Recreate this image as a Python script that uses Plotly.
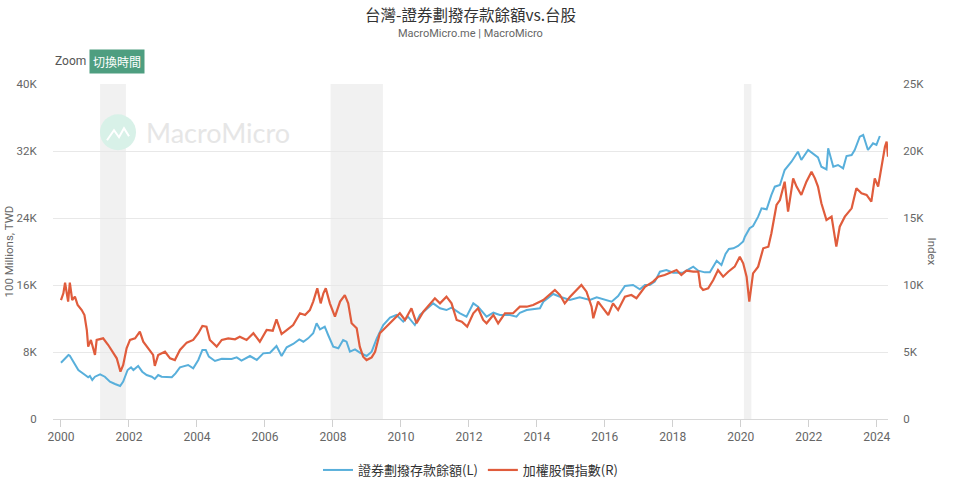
import plotly.graph_objects as go

# ---------------- data ----------------
title_text = "台灣-證券劃撥存款餘額vs.台股"
subtitle_text = "MacroMicro.me | MacroMicro"
series_names = ["證券劃撥存款餘額(L)", "加權股價指數(R)"]

deposit_x = [2000.00, 2000.22, 2000.26, 2000.51, 2000.71, 2000.80, 2000.85, 2000.92, 2001.00, 2001.15,
             2001.29, 2001.44, 2001.59, 2001.74, 2001.83, 2001.96, 2002.06, 2002.13, 2002.27, 2002.39,
             2002.52, 2002.67, 2002.76, 2002.86, 2002.96, 2003.26, 2003.37, 2003.50, 2003.74, 2003.89,
             2004.04, 2004.16, 2004.26, 2004.35, 2004.53, 2004.73, 2005.02, 2005.17, 2005.31, 2005.56,
             2005.76, 2005.95, 2006.15, 2006.34, 2006.49, 2006.64, 2006.83, 2007.01, 2007.13, 2007.27,
             2007.42, 2007.52, 2007.62, 2007.76, 2007.86, 2008.01, 2008.16, 2008.30, 2008.40, 2008.50,
             2008.65, 2008.79, 2008.99, 2009.14, 2009.29, 2009.48, 2009.68, 2009.87, 2010.07, 2010.21,
             2010.41, 2010.56, 2010.95, 2011.15, 2011.34, 2011.49, 2011.74, 2011.93, 2012.13, 2012.27,
             2012.52, 2012.72, 2012.91, 2013.21, 2013.40, 2013.50, 2013.70, 2014.09, 2014.19, 2014.48,
             2014.68, 2014.97, 2015.26, 2015.56, 2015.76, 2016.05, 2016.20, 2016.39, 2016.59, 2016.83,
             2017.03, 2017.18, 2017.32, 2017.47, 2017.62, 2017.81, 2018.01, 2018.30, 2018.60, 2018.75,
             2018.94, 2019.09, 2019.29, 2019.43, 2019.55, 2019.65, 2019.78, 2019.92, 2020.07, 2020.12,
             2020.26, 2020.36, 2020.51, 2020.61, 2020.76, 2020.90, 2021.00, 2021.15, 2021.29, 2021.49,
             2021.68, 2021.78, 2021.98, 2022.27, 2022.37, 2022.52, 2022.57, 2022.72, 2022.86, 2023.01,
             2023.11, 2023.26, 2023.35, 2023.50, 2023.60, 2023.74, 2023.89, 2023.99, 2024.09]
deposit_y = [6720, 7640, 7560, 5850, 5250, 4980, 5130, 4660, 5050, 5330,
             5050, 4460, 4180, 3940, 4460, 5850, 6170, 5850, 6330, 5650,
             5250, 5050, 4780, 5250, 5050, 4980, 5450, 6170, 6450, 6050,
             7050, 8240, 8240, 7440, 6930, 7200, 7160, 7360, 6970, 7520,
             7050, 7840, 7920, 8720, 7520, 8560, 8960, 9510, 9230, 9630,
             10230, 11430, 10710, 11020, 10030, 8630, 8440, 9430, 9230, 8040,
             8320, 7920, 7520, 8040, 9630, 11220, 12100, 12420, 11620, 12220,
             11220, 12420, 13810, 13220, 13010, 13290, 12620, 12220, 13810, 13410,
             12220, 12690, 12420, 12420, 12220, 12690, 13010, 13220, 14010, 14930,
             14600, 14210, 14530, 14210, 14530, 14210, 14010, 14690, 15880, 16000,
             15490, 16000, 16000, 16400, 17590, 17790, 17470, 17470, 18190, 17710,
             17510, 17510, 18900, 18390, 19700, 20300, 20380, 20660, 21200, 21770,
             22770, 23050, 24160, 25160, 25040, 26750, 27740, 27940, 29730, 30720,
             31920, 30930, 32120, 31240, 30120, 29810, 32320, 30120, 30330, 29930,
             31400, 31520, 32120, 33710, 33910, 32120, 32920, 32720, 33790]

taiex_x = [2000.00, 2000.07, 2000.12, 2000.17, 2000.21, 2000.26, 2000.33, 2000.41, 2000.49, 2000.61,
           2000.69, 2000.76, 2000.80, 2000.88, 2000.95, 2001.00, 2001.05, 2001.15, 2001.24, 2001.39,
           2001.54, 2001.64, 2001.75, 2001.83, 2001.93, 2002.03, 2002.18, 2002.32, 2002.42, 2002.57,
           2002.71, 2002.76, 2002.86, 2003.06, 2003.21, 2003.35, 2003.50, 2003.70, 2003.89, 2004.04,
           2004.16, 2004.28, 2004.38, 2004.58, 2004.73, 2004.92, 2005.12, 2005.26, 2005.46, 2005.66,
           2005.85, 2006.05, 2006.23, 2006.34, 2006.49, 2006.64, 2006.83, 2007.03, 2007.18, 2007.32,
           2007.42, 2007.54, 2007.64, 2007.72, 2007.79, 2007.91, 2008.06, 2008.21, 2008.35, 2008.45,
           2008.55, 2008.70, 2008.79, 2008.89, 2008.99, 2009.14, 2009.24, 2009.38, 2009.58, 2009.77,
           2009.97, 2010.12, 2010.31, 2010.46, 2010.66, 2011.00, 2011.15, 2011.34, 2011.49, 2011.64,
           2011.79, 2011.95, 2012.13, 2012.27, 2012.42, 2012.52, 2012.72, 2012.86, 2013.06, 2013.30,
           2013.50, 2013.70, 2013.89, 2014.19, 2014.53, 2014.68, 2014.82, 2014.97, 2015.17, 2015.31,
           2015.46, 2015.61, 2015.66, 2015.80, 2015.95, 2016.10, 2016.24, 2016.39, 2016.59, 2016.78,
           2016.93, 2017.18, 2017.42, 2017.57, 2017.76, 2017.96, 2018.11, 2018.25, 2018.40, 2018.60,
           2018.75, 2018.81, 2018.89, 2019.04, 2019.19, 2019.33, 2019.48, 2019.63, 2019.82, 2019.97,
           2020.07, 2020.17, 2020.25, 2020.36, 2020.51, 2020.66, 2020.81, 2020.90, 2021.05, 2021.15,
           2021.29, 2021.39, 2021.54, 2021.64, 2021.78, 2021.93, 2022.08, 2022.18, 2022.27, 2022.37,
           2022.52, 2022.67, 2022.81, 2022.91, 2023.06, 2023.26, 2023.40, 2023.55, 2023.70, 2023.84,
           2023.94, 2024.04, 2024.14, 2024.24, 2024.29, 2024.33]
taiex_y = [8880, 9380, 10170, 9130, 8760, 10170, 8880, 9130, 8510, 8130,
           7760, 6640, 5400, 5900, 5280, 4780, 5900, 5950, 6020, 5520,
           4900, 4530, 3530, 4030, 5280, 5900, 6020, 6520, 5770, 5280,
           4780, 3960, 4780, 5020, 4530, 4400, 5150, 5700, 5900, 6400,
           6940, 6890, 5900, 5400, 5900, 6020, 5950, 6140, 5900, 6400,
           5770, 6640, 6590, 7440, 6340, 6640, 7010, 7890, 7760, 8130,
           8760, 9750, 8630, 9380, 9750, 8630, 7640, 8760, 9250, 8630,
           7140, 6770, 5400, 4650, 4400, 4600, 5020, 6400, 6890, 7390,
           7890, 7390, 8260, 7140, 8010, 9010, 8630, 9130, 8630, 7390,
           7260, 6890, 7890, 8260, 7390, 7140, 7760, 7140, 7890, 7890,
           8380, 8380, 8510, 8880, 9630, 9250, 8630, 9100, 9630, 10000,
           9500, 8380, 7520, 8760, 8260, 7760, 8630, 8130, 9130, 9250,
           9010, 9870, 10250, 10620, 10750, 10990, 11120, 10750, 11070, 11000,
           11000, 9870, 9630, 9750, 10370, 11120, 10620, 10990, 11370, 12110,
           11620, 10620, 8760, 10870, 11370, 12740, 12860, 13860, 15970, 16340,
           17710, 15470, 17960, 17340, 16720, 17710, 18460, 17960, 17340, 16100,
           14850, 15100, 12860, 14350, 15100, 15720, 17220, 16850, 16720, 16220,
           17960, 17340, 18830, 20320, 20700, 19570]

recession_start = [2001.15, 2007.93, 2020.09]
recession_end = [2001.91, 2009.47, 2020.31]

x_tickvals = [2000, 2002, 2004, 2006, 2008, 2010, 2012, 2014, 2016, 2018, 2020, 2022, 2024]
x_ticktext = [str(v) for v in x_tickvals]
left_tickvals = [0, 8000, 16000, 24000, 32000, 40000]
left_ticktext = ["0", "8K", "16K", "24K", "32K", "40K"]
right_tickvals = [0, 5000, 10000, 15000, 20000, 25000]
right_ticktext = ["0", "5K", "10K", "15K", "20K", "25K"]

# ---------------- layout geometry ----------------
W, H = 960, 489
PL, PR, PT, PB = 53, 888, 83.7, 419
FONT = "Roboto, 'Noto Sans CJK TC', sans-serif"


def px(x):
    return (x - PL) / (PR - PL)


def py(y):
    return (PB - y) / (PB - PT)


BLUE = "#58afdb"
RED = "#e05c3c"

fig = go.Figure()
fig.add_trace(go.Scatter(x=deposit_x, y=deposit_y, name=series_names[0], mode="lines",
                         line=dict(color=BLUE, width=2), yaxis="y"))
fig.add_trace(go.Scatter(x=taiex_x, y=taiex_y, name=series_names[1], mode="lines",
                         line=dict(color=RED, width=2.2), yaxis="y2"))

shapes = []
for s, e in zip(recession_start, recession_end):
    shapes.append(dict(type="rect", xref="x", yref="paper", x0=s, x1=e, y0=0, y1=1,
                       fillcolor="#f1f1f1", line=dict(width=0), layer="below"))
# watermark logo circle
shapes.append(dict(type="circle", xref="paper", yref="paper",
                   x0=px(100), x1=px(136), y0=py(150), y1=py(114),
                   fillcolor="#d8f1e8", line=dict(width=0), layer="below"))
shapes.append(dict(type="path", xref="paper", yref="paper",
                   path=f"M {px(107)},{py(140)} L {px(114)},{py(130)} L {px(119)},{py(137)} L {px(124)},{py(128)} L {px(129)},{py(136)}",
                   line=dict(color="white", width=2), layer="below"))

annotations = [
    dict(text=title_text, x=0.5, xref="paper", y=py(14), yref="paper", showarrow=False,
         font=dict(size=15.5, color="#333333", family="'Noto Sans CJK TC', sans-serif"),
         xanchor="center", yanchor="middle"),
    dict(text=subtitle_text, x=0.5, xref="paper", y=py(33), yref="paper", showarrow=False,
         font=dict(size=11, color="#666666", family=FONT), xanchor="center", yanchor="middle"),
    dict(text="Zoom", x=px(53), xref="paper", y=py(61), yref="paper", showarrow=False,
         font=dict(size=12, color="#555555", family=FONT), xanchor="left", yanchor="middle"),
    dict(text="切換時間", x=px(89), xref="paper", y=py(61), yref="paper", showarrow=False,
         font=dict(size=12, color="white", family="'Noto Sans CJK TC', sans-serif"),
         bgcolor="#4e9e80", borderpad=3, xanchor="left", yanchor="middle"),
    dict(text="MacroMicro", x=px(144), xref="paper", y=py(132), yref="paper", showarrow=False,
         font=dict(size=27, color="#e6e6e6", family="Lato, sans-serif"),
         xanchor="left", yanchor="middle"),
    dict(text="100 Millions, TWD", x=px(8), xref="paper", y=0.5, yref="paper", showarrow=False,
         textangle=-90, font=dict(size=11.5, color="#666666", family=FONT),
         xanchor="center", yanchor="middle"),
    dict(text="Index", x=px(932), xref="paper", y=0.5, yref="paper", showarrow=False,
         textangle=90, font=dict(size=11.5, color="#666666", family=FONT),
         xanchor="center", yanchor="middle"),
]

fig.update_layout(
    width=W, height=H,
    margin=dict(l=PL, r=W - PR, t=PT, b=H - PB, autoexpand=False),
    paper_bgcolor="white", plot_bgcolor="white",
    font=dict(family=FONT, color="#666666"),
    showlegend=True,
    legend=dict(orientation="h", x=0.5, xanchor="center",
                yref="container", y=1 - 470 / H, yanchor="middle",
                font=dict(size=13, color="#333333", family="'Noto Sans CJK TC', sans-serif"),
                itemwidth=30, bgcolor="rgba(0,0,0,0)"),
    xaxis=dict(range=[1999.765, 2024.33], tickvals=x_tickvals, ticktext=x_ticktext,
               showgrid=False, zeroline=False, showline=True, linecolor="#d8d8d8", linewidth=1,
               ticks="outside", ticklen=7, tickcolor="#d0d0d0",
               tickfont=dict(size=12, color="#666666")),
    yaxis=dict(range=[0, 40000], tickvals=left_tickvals, ticktext=left_ticktext,
               showgrid=True, gridcolor="#e8e8e8", gridwidth=1, zeroline=False, showline=False,
               ticks="outside", ticklen=13, tickcolor="rgba(0,0,0,0)",
               tickfont=dict(size=11.5, color="#666666")),
    yaxis2=dict(range=[0, 25000], tickvals=right_tickvals, ticktext=right_ticktext,
                overlaying="y", side="right", showgrid=False, zeroline=False, showline=False,
                ticks="outside", ticklen=12, tickcolor="rgba(0,0,0,0)",
                tickfont=dict(size=11.5, color="#666666")),
    shapes=shapes,
    annotations=annotations,
)

fig.write_html("out.html")
